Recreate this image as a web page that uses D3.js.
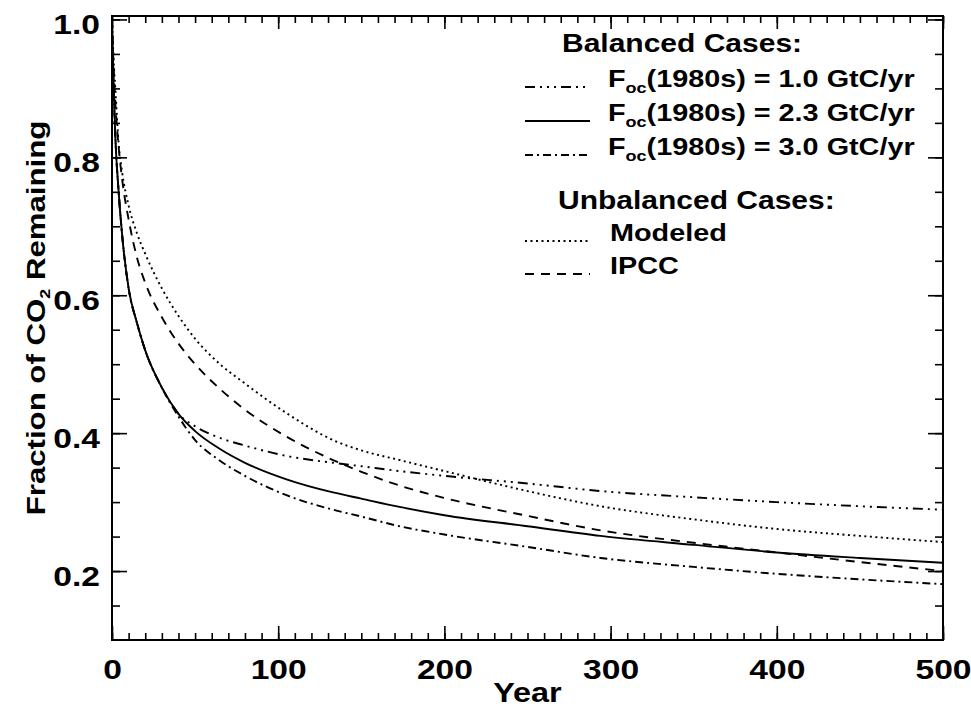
<!DOCTYPE html>
<html>
<head>
<meta charset="utf-8">
<script src="https://cdn.jsdelivr.net/npm/d3@7"></script>
<style>
  body { margin: 0; background: #fff; }
  svg text { font-family: "Liberation Sans", Arial, Helvetica, sans-serif; font-weight: bold; fill: #000; }
</style>
</head>
<body>
<svg id="chart" width="971" height="715"></svg>
<script>
// values
const years   = [0, 1, 2, 4, 6, 10, 15, 20, 30, 40, 50, 65, 80, 105, 133, 150, 173, 200, 250, 294, 350, 400, 450, 500];
const bal10   = [1.0, 0.90, 0.83, 0.75, 0.69, 0.61, 0.56, 0.52, 0.466, 0.428, 0.410, 0.393, 0.382, 0.367, 0.357, 0.352, 0.345, 0.338, 0.327, 0.316, 0.307, 0.300, 0.294, 0.289];
const bal23   = [1.0, 0.90, 0.83, 0.75, 0.69, 0.61, 0.56, 0.52, 0.466, 0.428, 0.403, 0.377, 0.357, 0.333, 0.314, 0.305, 0.293, 0.281, 0.265, 0.251, 0.238, 0.227, 0.219, 0.212];
const bal30   = [1.0, 0.90, 0.83, 0.75, 0.69, 0.61, 0.56, 0.52, 0.466, 0.424, 0.390, 0.360, 0.338, 0.310, 0.289, 0.279, 0.265, 0.253, 0.235, 0.219, 0.206, 0.196, 0.188, 0.181];
const modeled = [1.0, 0.94, 0.90, 0.82, 0.78, 0.73, 0.69, 0.66, 0.61, 0.57, 0.537, 0.50, 0.472, 0.429, 0.390, 0.375, 0.361, 0.345, 0.316, 0.294, 0.275, 0.261, 0.251, 0.242];
const ipcc    = [1.0, 0.93, 0.88, 0.815, 0.77, 0.71, 0.655, 0.618, 0.568, 0.53, 0.50, 0.464, 0.434, 0.395, 0.361, 0.344, 0.324, 0.306, 0.28, 0.259, 0.241, 0.227, 0.213, 0.20];

const xMajor = [0, 100, 200, 300, 400, 500];
const yMajor = [0.2, 0.4, 0.6, 0.8, 1.0];

const balancedNames = ["1.0", "2.3", "3.0"];
const unbalancedNames = ["Modeled", "IPCC"];

const dashes = {
  bal10: "10,5,2,5,2,5,2,5",
  bal23: null,
  bal30: "8,4,2,4",
  modeled: "2,3.5",
  ipcc: "9,7"
};

const svg = d3.select("#chart");
const mLeft = 112, mRight = 943, mTop = 16, mBottom = 640;
const sx = 1.2;

const x = d3.scaleLinear().domain([0, 500]).range([mLeft, mRight]);
const y = d3.scaleLinear().domain([0.1, 1.005]).range([mBottom, mTop]);

// ticks: minor first, then major, all pointing inward
function ticks(axisFn, pos, values, size, fmt, pad) {
  const a = axisFn.tickValues(values).tickSize(-size).tickSizeOuter(0).tickPadding(pad || 3);
  a.tickFormat(fmt || (() => ""));
  const g = svg.append("g").attr("transform", pos).call(a);
  g.select(".domain").remove();
  g.selectAll("line").attr("stroke", "#000").attr("stroke-width", 1.6);
  return g;
}
const minorX = d3.range(0, 501, 10);
const minorY = d3.range(0.15, 1.0001, 0.05);

ticks(d3.axisBottom(x), `translate(0,${mBottom})`, minorX, 7);
ticks(d3.axisTop(x), `translate(0,${mTop})`, minorX, 7);
ticks(d3.axisLeft(y), `translate(${mLeft},0)`, minorY, 8);
ticks(d3.axisRight(y), `translate(${mRight},0)`, minorY, 8);

const bx = ticks(d3.axisBottom(x), `translate(0,${mBottom})`, xMajor, 14, d3.format("d"), 19);
ticks(d3.axisTop(x), `translate(0,${mTop})`, xMajor, 13);
const ly = ticks(d3.axisLeft(y), `translate(${mLeft},0)`, yMajor, 15, d3.format(".1f"), 10);
ticks(d3.axisRight(y), `translate(${mRight},0)`, yMajor, 15);

bx.selectAll("text").style("font-size", "28px").attr("dy", "0.72em")
  .attr("transform", `scale(${sx},1)`);
ly.selectAll("text").style("font-size", "28px").attr("dy", "0.5em")
  .attr("transform", `scale(${sx},1)`);

// frame
svg.append("rect")
  .attr("x", mLeft).attr("y", mTop)
  .attr("width", mRight - mLeft).attr("height", mBottom - mTop)
  .attr("fill", "none").attr("stroke", "#000").attr("stroke-width", 2);

// curves
svg.append("clipPath").attr("id", "plot")
  .append("rect").attr("x", mLeft).attr("y", mTop).attr("width", mRight - mLeft).attr("height", mBottom - mTop);

const line = d3.line()
  .x((d, i) => x(years[i]))
  .y(d => y(d))
  .curve(d3.curveMonotoneX);

const series = [
  { key: "modeled", values: modeled },
  { key: "ipcc", values: ipcc },
  { key: "bal30", values: bal30 },
  { key: "bal10", values: bal10 },
  { key: "bal23", values: bal23 }
];

svg.append("g").attr("clip-path", "url(#plot)")
  .selectAll("path").data(series).enter().append("path")
  .attr("d", d => line(d.values))
  .attr("fill", "none")
  .attr("stroke", "#000")
  .attr("stroke-width", 1.9)
  .attr("stroke-dasharray", d => dashes[d.key]);

// text helper, horizontally widened to match the original lettering
function label(px, py, size, anchor, rot) {
  return svg.append("text")
    .attr("transform", `translate(${px},${py})` + (rot ? ` rotate(${rot})` : "") + ` scale(${sx},1)`)
    .attr("text-anchor", anchor)
    .style("font-size", size + "px");
}

// axis titles
label((mLeft + mRight) / 2, 702, 27, "middle").text("Year");
const yt = label(45, 318, 26, "middle", -90);
yt.append("tspan").text("Fraction of CO");
yt.append("tspan").attr("dy", 5).style("font-size", "15px").text("2");
yt.append("tspan").attr("dy", -5).text(" Remaining");

// legend
label(562, 52, 25, "start").text("Balanced Cases:");
const rowsB = [87, 121, 155];
const keysB = ["bal10", "bal23", "bal30"];
balancedNames.forEach((n, i) => {
  const t = label(608, rowsB[i], 24, "start");
  t.append("tspan").text("F");
  t.append("tspan").attr("dy", 6).style("font-size", "15px").text("oc");
  t.append("tspan").attr("dy", -6).text(`(1980s) = ${n} GtC/yr`);
  svg.append("line")
    .attr("x1", 525).attr("x2", 590)
    .attr("y1", rowsB[i]).attr("y2", rowsB[i])
    .attr("stroke", "#000").attr("stroke-width", 1.9)
    .attr("stroke-dasharray", dashes[keysB[i]]);
});

label(558, 209, 25, "start").text("Unbalanced Cases:");
const rowsU = [241, 274];
const keysU = ["modeled", "ipcc"];
unbalancedNames.forEach((n, i) => {
  label(610, rowsU[i], 24, "start").text(n);
  svg.append("line")
    .attr("x1", 525).attr("x2", 590)
    .attr("y1", rowsU[i]).attr("y2", rowsU[i])
    .attr("stroke", "#000").attr("stroke-width", 1.9)
    .attr("stroke-dasharray", dashes[keysU[i]]);
});
</script>
</body>
</html>
